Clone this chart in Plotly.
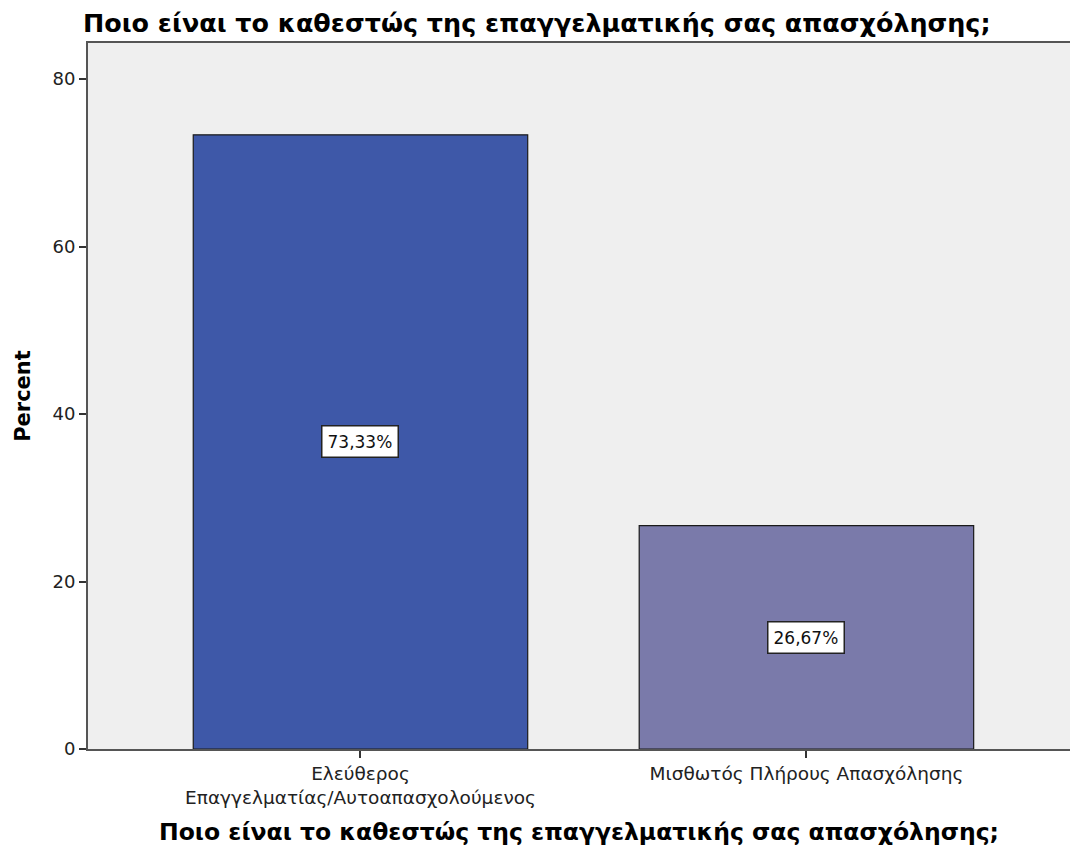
import plotly.graph_objects as go

categories = ["Ελεύθερος<br>Επαγγελματίας/Αυτοαπασχολούμενος", "Μισθωτός Πλήρους Απασχόλησης"]
percent = [73.33, 26.67]
labels = ["73,33%", "26,67%"]
colors = ["#3E58A8", "#7A7AAA"]
title_text = "Ποιο είναι το καθεστώς της επαγγελματικής σας απασχόλησης;"
y_ticks = [0, 20, 40, 60, 80]

fig = go.Figure()
fig.add_trace(go.Bar(
    x=[0, 1], y=percent, width=0.75,
    marker=dict(color=colors, line=dict(color="#1a1a1a", width=1.2)),
    hoverinfo="skip",
))
for i, (v, t) in enumerate(zip(percent, labels)):
    fig.add_annotation(x=i, y=v / 2, text=t, showarrow=False,
                       font=dict(family="DejaVu Sans", size=17, color="#111"),
                       bgcolor="white", bordercolor="#222", borderwidth=1.5, borderpad=5)

fig.update_layout(
    width=1070, height=850,
    margin=dict(l=88, r=0, t=43, b=101),
    paper_bgcolor="white", plot_bgcolor="#EFEFEF",
    showlegend=False,
    title=dict(text="<b>" + title_text + "</b>", x=83 / 1070, xanchor="left",
               y=1 - 23 / 850, yanchor="middle", yref="container",
               font=dict(family="DejaVu Sans", size=25.4, color="#000")),
    xaxis=dict(range=[-0.611, 1.591], tickvals=[0, 1], ticktext=categories,
               ticks="outside", ticklen=7, tickcolor="#333", tickwidth=1.5,
               showline=True, linecolor="#555", linewidth=2, mirror=True,
               showgrid=False, zeroline=False,
               tickfont=dict(family="DejaVu Sans", size=18.5, color="#222"),
               title=dict(text="<b>" + title_text + "</b>", standoff=16,
                          font=dict(family="DejaVu Sans", size=23.5, color="#000"))),
    yaxis=dict(range=[0, 84.3], tickvals=y_ticks,
               ticks="outside", ticklen=7, tickcolor="#333", tickwidth=1.5,
               showline=True, linecolor="#555", linewidth=2, mirror=False,
               showgrid=False, zeroline=False,
               tickfont=dict(family="DejaVu Sans", size=18, color="#222"),
               title=dict(text="<b>Percent</b>", standoff=16,
                          font=dict(family="DejaVu Sans", size=21, color="#000"))),
)
fig.write_html("out.html", config={"displayModeBar": False},
               post_script="document.body.style.margin='0';")
